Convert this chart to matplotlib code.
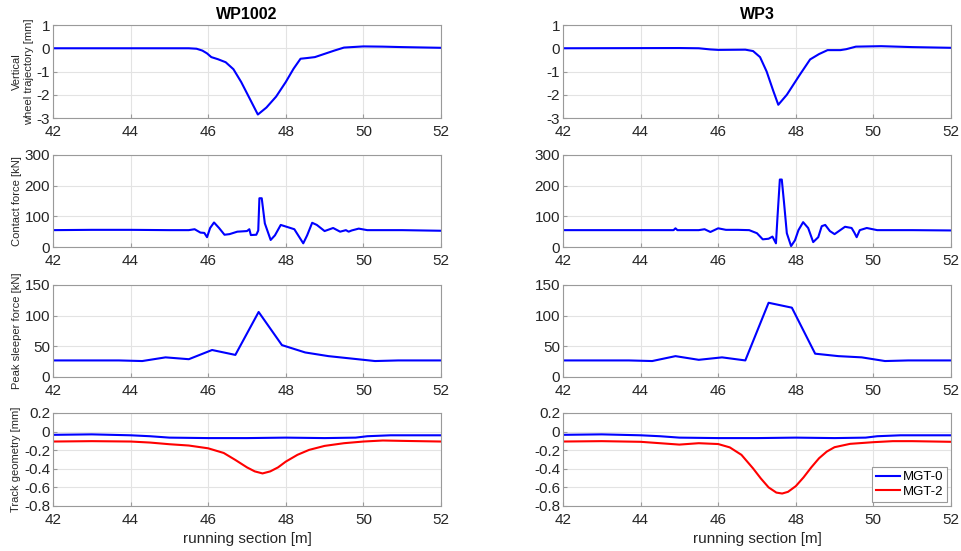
import matplotlib
matplotlib.use('Agg')
import matplotlib.pyplot as plt
import matplotlib.ticker as ticker

plt.rcParams['font.family'] = ['Liberation Sans', 'DejaVu Sans']
plt.rcParams['axes.unicode_minus'] = False

# Vertical wheel trajectory [mm]
traj_x_wp1002 = [42, 45.5, 45.7, 45.85, 45.97, 46.08, 46.25, 46.45, 46.65, 46.85, 47.05, 47.28,
                 47.5, 47.75, 48.0, 48.2, 48.38, 48.55, 48.75, 49.0, 49.25, 49.5, 50.0, 50.5, 51.0, 52]
traj_y_wp1002 = [0, 0, -0.02, -0.1, -0.22, -0.38, -0.47, -0.6, -0.9, -1.45, -2.1, -2.85,
                 -2.55, -2.08, -1.45, -0.88, -0.45, -0.42, -0.38, -0.24, -0.1, 0.03, 0.08, 0.07, 0.05, 0.02]
traj_x_wp3 = [42, 45.0, 45.5, 45.8, 46.0, 46.7, 46.9, 47.08, 47.25, 47.42, 47.55, 47.77, 48.1,
              48.37, 48.6, 48.82, 49.15, 49.3, 49.55, 50.2, 51.0, 52]
traj_y_wp3 = [0, 0.01, 0.0, -0.05, -0.07, -0.06, -0.12, -0.38, -1.0, -1.83, -2.43, -2.0, -1.15,
              -0.48, -0.25, -0.08, -0.08, -0.04, 0.07, 0.09, 0.05, 0.02]

# Contact force [kN]
force_x_wp1002 = [42, 43, 44, 45, 45.5, 45.65, 45.8, 45.9, 45.97, 46.05, 46.15, 46.28, 46.42, 46.55,
                  46.75, 47.0, 47.06, 47.1, 47.24, 47.29, 47.32, 47.38, 47.46, 47.61, 47.72, 47.87,
                  48.02, 48.22, 48.36, 48.45, 48.55, 48.68, 48.8, 49.0, 49.22, 49.4, 49.55, 49.62,
                  49.7, 49.88, 50.1, 51, 52]
force_y_wp1002 = [55, 56, 56, 55, 55, 58, 47, 46, 32, 62, 80, 62, 40, 42,
                  50, 52, 58, 39, 40, 54, 159, 159, 77, 23, 38, 72,
                  66, 58, 30, 12, 38, 79, 72, 52, 62, 50, 55, 50,
                  54, 60, 55, 55, 53]
force_x_wp3 = [42, 43, 44, 44.85, 44.9, 44.95, 45.5, 45.65, 45.8, 46.0, 46.2, 46.5, 46.8, 47.0,
               47.15, 47.3, 47.4, 47.49, 47.53, 47.59, 47.64, 47.7, 47.77, 47.88, 47.98, 48.07,
               48.19, 48.32, 48.45, 48.58, 48.67, 48.76, 48.88, 49.0, 49.27, 49.44, 49.51, 49.57,
               49.65, 49.83, 50.1, 51, 52]
force_y_wp3 = [55, 55, 55, 55, 61, 55, 55, 58, 49, 61, 56, 56, 55, 45,
               25, 27, 34, 12, 99, 220, 220, 142, 45, 3, 22, 55,
               81, 62, 16, 32, 68, 72, 52, 42, 66, 62, 47, 32,
               55, 62, 55, 55, 54]

# Peak sleeper force [kN], one value per sleeper
sleeper_x = [42, 43.7, 44.3, 44.9, 45.5, 46.1, 46.7, 47.3, 47.9, 48.5, 49.1, 49.7, 50.3, 50.9, 52]
sleeper_y_wp1002 = [27, 27, 26, 32, 29, 44, 36, 106, 52, 40, 34, 30, 26, 27, 27]
sleeper_y_wp3 = [27, 27, 26, 34, 28, 32, 27, 121, 113, 38, 34, 32, 26, 27, 27]

# Track geometry [mm]
geo_x_mgt0 = [42, 43, 44, 44.5, 45, 46, 47, 48, 49, 49.8, 50.1, 50.7, 52]
geo_y_mgt0 = [-0.035, -0.03, -0.04, -0.05, -0.065, -0.07, -0.07, -0.065, -0.07, -0.065, -0.05, -0.04, -0.04]
geo_x_mgt2_wp1002 = [42, 43, 44, 44.5, 45, 45.5, 46, 46.4, 46.7, 47.0, 47.2, 47.4, 47.6, 47.8,
                     48.0, 48.3, 48.6, 49.0, 49.5, 50.0, 50.5, 51, 52]
geo_y_mgt2_wp1002 = [-0.107, -0.103, -0.107, -0.118, -0.136, -0.15, -0.18, -0.23, -0.305, -0.385,
                     -0.428, -0.45, -0.428, -0.385, -0.323, -0.25, -0.197, -0.154, -0.125, -0.107,
                     -0.096, -0.1, -0.107]
geo_x_mgt2_wp3 = [42, 43, 44, 44.5, 45, 45.5, 46, 46.3, 46.6, 46.9, 47.1, 47.3, 47.5, 47.65, 47.8,
                  48.0, 48.2, 48.4, 48.6, 48.8, 49.0, 49.4, 50.0, 50.5, 51, 52]
geo_y_mgt2_wp3 = [-0.107, -0.103, -0.11, -0.125, -0.14, -0.125, -0.134, -0.17, -0.25, -0.396,
                  -0.504, -0.6, -0.656, -0.666, -0.648, -0.587, -0.493, -0.385, -0.287, -0.215,
                  -0.168, -0.132, -0.114, -0.103, -0.103, -0.11]

titles = ['WP1002', 'WP3']
ylabels = ['Vertical\nwheel trajectory [mm]', 'Contact force [kN]',
           'Peak sleeper force [kN]', 'Track geometry [mm]']
ylims = [(-3, 1), (0, 300), (0, 150), (-0.8, 0.2)]
yticks = [[-3, -2, -1, 0, 1], [0, 100, 200, 300], [0, 50, 100, 150],
          [-0.8, -0.6, -0.4, -0.2, 0, 0.2]]

fig = plt.figure(figsize=(9.62, 5.51), dpi=100)
lefts = [0.0551, 0.5852]
bottoms = [0.7858, 0.5517, 0.3158, 0.0817]
heights = [0.1688, 0.167, 0.167, 0.1688]

blue = (0, 0, 1)
red = (1, 0, 0)
axes = [[None, None] for _ in range(4)]
for r in range(4):
    for c in range(2):
        ax = fig.add_axes([lefts[c], bottoms[r], 0.4033, heights[r]])
        ax.set_xlim(42, 52)
        ax.set_ylim(*ylims[r])
        ax.set_xticks([42, 44, 46, 48, 50, 52])
        ax.set_yticks(yticks[r])
        ax.yaxis.set_major_formatter(ticker.FormatStrFormatter('%g'))
        ax.grid(True, color='#e3e3e3', linewidth=0.8)
        ax.set_axisbelow(True)
        for s in ax.spines.values():
            s.set_color('#9a9a9a')
            s.set_linewidth(0.8)
        ax.tick_params(direction='in', length=3, color='#9a9a9a',
                       labelsize=11, labelcolor='#262626')
        ax.tick_params(axis='x', pad=5)
        ax.tick_params(axis='y', pad=2)
        if c == 0:
            ax.set_ylabel(ylabels[r], fontsize=8, color='#262626', labelpad=2)
        axes[r][c] = ax

axes[0][0].set_title(titles[0], fontsize=11.5, fontweight='bold', pad=4)
axes[0][1].set_title(titles[1], fontsize=11.5, fontweight='bold', pad=4)

axes[0][0].plot(traj_x_wp1002, traj_y_wp1002, color=blue, lw=1.5)
axes[0][1].plot(traj_x_wp3, traj_y_wp3, color=blue, lw=1.5)
axes[1][0].plot(force_x_wp1002, force_y_wp1002, color=blue, lw=1.5)
axes[1][1].plot(force_x_wp3, force_y_wp3, color=blue, lw=1.5)
axes[2][0].plot(sleeper_x, sleeper_y_wp1002, color=blue, lw=1.5)
axes[2][1].plot(sleeper_x, sleeper_y_wp3, color=blue, lw=1.5)

axes[3][0].plot(geo_x_mgt0, geo_y_mgt0, color=blue, lw=1.5)
axes[3][0].plot(geo_x_mgt2_wp1002, geo_y_mgt2_wp1002, color=red, lw=1.5)
axes[3][1].plot(geo_x_mgt0, geo_y_mgt0, color=blue, lw=1.5, label='MGT-0')
axes[3][1].plot(geo_x_mgt2_wp3, geo_y_mgt2_wp3, color=red, lw=1.5, label='MGT-2')

leg = axes[3][1].legend(loc='lower right', fontsize=9.5, handlelength=1.8,
                        handletextpad=0.2, borderpad=0.3, labelspacing=0.2,
                        fancybox=False, framealpha=1, borderaxespad=0.3)
leg.get_frame().set_edgecolor('#9a9a9a')
leg.get_frame().set_linewidth(0.8)

for c in range(2):
    axes[3][c].set_xlabel('running section [m]', fontsize=11, color='#262626', labelpad=4)

fig.savefig('out.png', dpi=100)
